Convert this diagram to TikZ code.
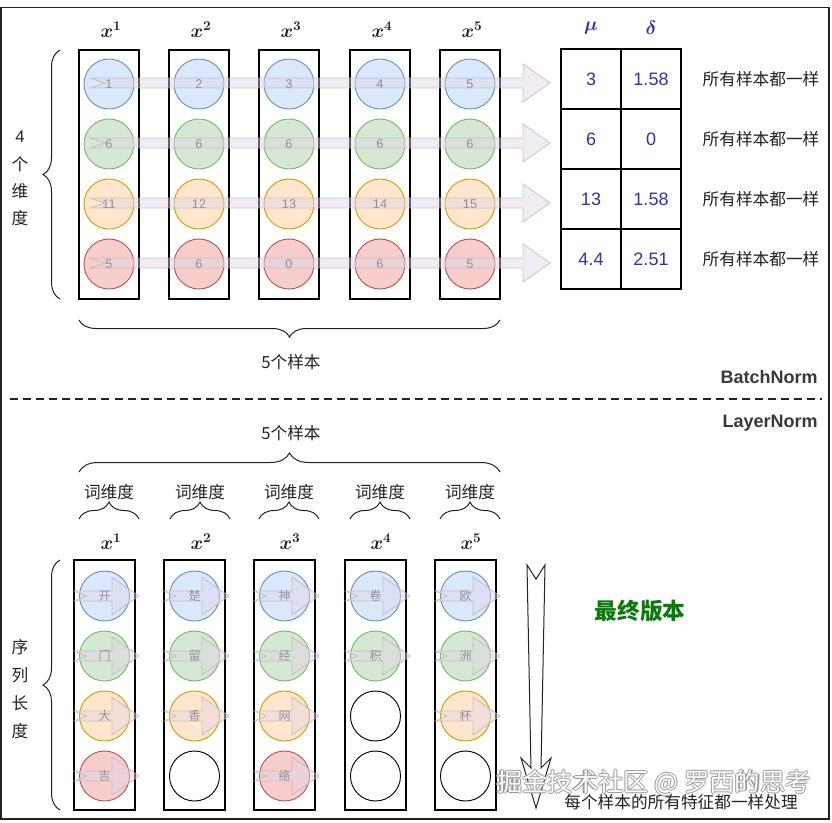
\documentclass[tikz,border=0pt]{standalone}
\usepackage{fontspec}
\setmainfont{Liberation Sans}
\newfontfamily\cjk{Noto Sans CJK SC}
\usetikzlibrary{decorations.pathreplacing}
\definecolor{bfill}{HTML}{DAE8FC}\definecolor{bdraw}{HTML}{6C8EBF}
\definecolor{gfill}{HTML}{D5E8D4}\definecolor{gdraw}{HTML}{82B366}
\definecolor{ofill}{HTML}{FFE6CC}\definecolor{odraw}{HTML}{D79B00}
\definecolor{rfill}{HTML}{F8CECC}\definecolor{rdraw}{HTML}{B85450}
\definecolor{arrfill}{HTML}{E1D5E7}
\definecolor{tblue}{HTML}{3030B0}
\definecolor{dgreen}{HTML}{0B7A0B}
\definecolor{txt}{HTML}{222222}
\newcommand{\bmx}[1]{{\boldmath$#1$}}
\tikzset{
  colbox/.style={draw=black,line width=0.8pt,minimum width=45pt,minimum height=186.75pt},
  colboxb/.style={draw=black,line width=0.8pt,minimum width=45.75pt,minimum height=187.5pt},
  circ/.style={circle,minimum size=37.5pt,line width=0.7pt,text=txt!80,font=\fontsize{9.5}{10}\selectfont},
  bc/.style={circ,fill=bfill,draw=bdraw},
  gc/.style={circ,fill=gfill,draw=gdraw},
  oc/.style={circ,fill=ofill,draw=odraw},
  rc/.style={circ,fill=rfill,draw=rdraw},
  ec/.style={circ,fill=white,draw=black},
  ccirc/.style={circ,font=\cjk\fontsize{9}{10}\selectfont,text=txt!75},
  cbc/.style={ccirc,fill=bfill,draw=bdraw},
  cgc/.style={ccirc,fill=gfill,draw=gdraw},
  coc/.style={ccirc,fill=ofill,draw=odraw},
  crc/.style={ccirc,fill=rfill,draw=rdraw},
  flow/.style={fill=arrfill,fill opacity=0.45,draw=gray!60,draw opacity=0.7,line width=0.6pt},
  cell/.style={draw=black,line width=0.8pt,minimum size=45pt,text=tblue,font=\fontsize{13.5}{15}\selectfont},
  cn/.style={font=\cjk\fontsize{12.5}{14}\selectfont},
  xl/.style={font=\fontsize{14.5}{16}\selectfont},
  brc/.style={decorate,decoration={brace,amplitude=#1},line width=0.75pt,draw=txt},
  tag/.style={font=\bfseries\fontsize{13.5}{15}\selectfont,text=txt!90},
  wmk/.style={font=\cjk\fontsize{19}{20}\selectfont}
}
\begin{document}
\begin{tikzpicture}[x=0.75pt,y=-0.75pt,every node/.style={inner sep=0pt,text=txt}]
\useasboundingbox (0,0) rectangle (832,822);
\draw[line width=1.1pt,draw=txt] (1,7.5) rectangle (829,819);

% ---------------- BatchNorm (top) ----------------
\node[colbox] (T1) at (109,174.5) {};
\node[colbox] (T2) at (199,174.5) {};
\node[colbox] (T3) at (289,174.5) {};
\node[colbox] (T4) at (380,174.5) {};
\node[colbox] (T5) at (470,174.5) {};
\node[xl] (TX1) at (111,30) {\bmx{x^{1}}};
\node[xl] (TX2) at (201,30) {\bmx{x^{2}}};
\node[xl] (TX3) at (291,30) {\bmx{x^{3}}};
\node[xl] (TX4) at (382,30) {\bmx{x^{4}}};
\node[xl] (TX5) at (472,30) {\bmx{x^{5}}};

\node[bc] (t1a) at (109,84) {1};
\node[gc] (t1b) at (109,144) {6};
\node[oc] (t1c) at (109,204) {11};
\node[rc] (t1d) at (109,264) {5};
\node[bc] (t2a) at (199,84) {2};
\node[gc] (t2b) at (199,144) {6};
\node[oc] (t2c) at (199,204) {12};
\node[rc] (t2d) at (199,264) {6};
\node[bc] (t3a) at (289,84) {3};
\node[gc] (t3b) at (289,144) {6};
\node[oc] (t3c) at (289,204) {13};
\node[rc] (t3d) at (289,264) {0};
\node[bc] (t4a) at (380,84) {4};
\node[gc] (t4b) at (380,144) {6};
\node[oc] (t4c) at (380,204) {14};
\node[rc] (t4d) at (380,264) {6};
\node[bc] (t5a) at (470,84) {5};
\node[gc] (t5b) at (470,144) {6};
\node[oc] (t5c) at (470,204) {15};
\node[rc] (t5d) at (470,264) {5};

\foreach \yy in {83,143,203,263}{
  \path[flow] (90,\yy-5) -- (523,\yy-5) -- (523,\yy-19) -- (550,\yy) -- (523,\yy+19)
    -- (523,\yy+5) -- (90,\yy+5) -- (105,\yy) -- cycle;
}

\node[text=tblue,font=\fontsize{14.5}{16}\selectfont] (mu) at (591,28) {\bmx{\mu}};
\node[text=tblue,font=\fontsize{14.5}{16}\selectfont] (de) at (651,28) {\bmx{\delta}};
\node[cell] (m1) at (591,79) {3};
\node[cell] (s1) at (651,79) {1.58};
\node[cell] (m2) at (591,139) {6};
\node[cell] (s2) at (651,139) {0};
\node[cell] (m3) at (591,199) {13};
\node[cell] (s3) at (651,199) {1.58};
\node[cell] (m4) at (591,259) {4.4};
\node[cell] (s4) at (651,259) {2.51};
\node[cn] (same1) at (761,79) {所有样本都一样};
\node[cn] (same2) at (761,139) {所有样本都一样};
\node[cn] (same3) at (761,199) {所有样本都一样};
\node[cn] (same4) at (761,259) {所有样本都一样};

\node[font=\fontsize{12.5}{14}\selectfont] (d4) at (20,137) {4};
\node[cn] (dg) at (20,164) {个};
\node[cn] (dw) at (20,191) {维};
\node[cn] (dd) at (20,218) {度};
\coordinate (lb1) at (60,299);
\coordinate (lb2) at (60,50);
\draw[brc=12.75pt] (lb1) -- (lb2);
\coordinate (bb1) at (500,320);
\coordinate (bb2) at (79,320);
\draw[brc=12.75pt] (bb1) -- (bb2);
\node[cn] (top5) at (291,362) {5个样本};
\node[tag,anchor=east] (bn) at (818,377) {BatchNorm};
\coordinate (dl1) at (10,399);
\coordinate (dl2) at (822,399);
\draw[line width=1.1pt,draw=txt,dash pattern=on 6pt off 3.8pt] (dl1) -- (dl2);
\node[tag,anchor=east] (ln) at (818,423) {LayerNorm};

% ---------------- LayerNorm (bottom) ----------------
\node[cn] (bot5) at (291,433) {5个样本};
\coordinate (ub1) at (79,472);
\coordinate (ub2) at (500,472);
\draw[brc=14.25pt] (ub1) -- (ub2);
\draw[brc=12.75pt] (79,519) -- (139,519);
\draw[brc=12.75pt] (170,519) -- (230,519);
\draw[brc=12.75pt] (259,519) -- (319,519);
\draw[brc=12.75pt] (350,519) -- (410,519);
\draw[brc=12.75pt] (440,519) -- (500,519);
\node[cn] (cw1) at (109,492) {词维度};
\node[cn] (cw2) at (200,492) {词维度};
\node[cn] (cw3) at (289,492) {词维度};
\node[cn] (cw4) at (380,492) {词维度};
\node[cn] (cw5) at (470,492) {词维度};
\node[xl] (BX1) at (111,542) {\bmx{x^{1}}};
\node[xl] (BX2) at (201,542) {\bmx{x^{2}}};
\node[xl] (BX3) at (290,542) {\bmx{x^{3}}};
\node[xl] (BX4) at (381,542) {\bmx{x^{4}}};
\node[xl] (BX5) at (471,542) {\bmx{x^{5}}};

\node[colboxb] (B1) at (104.5,685) {};
\node[colboxb] (B2) at (194.5,685) {};
\node[colboxb] (B3) at (284.5,685) {};
\node[colboxb] (B4) at (375.5,685) {};
\node[colboxb] (B5) at (465.5,685) {};

\node[cbc] (b1a) at (104.5,596) {开};
\node[cgc] (b1b) at (104.5,656) {门};
\node[coc] (b1c) at (104.5,716) {大};
\node[crc] (b1d) at (104.5,776) {吉};
\node[cbc] (b2a) at (194.5,596) {楚};
\node[cgc] (b2b) at (194.5,656) {留};
\node[coc] (b2c) at (194.5,716) {香};
\node[ec]  (b2d) at (194.5,776) {};
\node[cbc] (b3a) at (284.5,596) {神};
\node[cgc] (b3b) at (284.5,656) {经};
\node[coc] (b3c) at (284.5,716) {网};
\node[crc] (b3d) at (284.5,776) {络};
\node[cbc] (b4a) at (375.5,596) {卷};
\node[cgc] (b4b) at (375.5,656) {积};
\node[ec]  (b4c) at (375.5,716) {};
\node[ec]  (b4d) at (375.5,776) {};
\node[cbc] (b5a) at (465.5,596) {欧};
\node[cgc] (b5b) at (465.5,656) {洲};
\node[coc] (b5c) at (465.5,716) {杯};
\node[ec]  (b5d) at (465.5,776) {};

\foreach \LL/\yy in {74/596,74/656,74/716,74/776,
                   164/596,164/656,164/716,
                   254/596,254/656,254/716,254/776,
                   345/596,345/656,
                   435/596,435/656,435/716}{
  \path[flow] (\LL,\yy-5) -- (\LL+38,\yy-5) -- (\LL+38,\yy-19) -- (\LL+65,\yy)
    -- (\LL+38,\yy+19) -- (\LL+38,\yy+5) -- (\LL,\yy+5) -- (\LL+12,\yy) -- cycle;
}

\node[cn] (sx) at (20,647) {序};
\node[cn] (sl) at (20,675) {列};
\node[cn] (sc) at (20,703) {长};
\node[cn] (sd) at (20,731) {度};
\coordinate (lc1) at (60,810);
\coordinate (lc2) at (60,560);
\draw[brc=12.75pt] (lc1) -- (lc2);

\draw[fill=white,line width=0.75pt,draw=txt] (527,565) -- (536,579) -- (545,565) -- (541,768)
  -- (551,758) -- (536,808) -- (521,758) -- (531,768) -- cycle;
\node[font=\cjk\bfseries\fontsize{17}{19}\selectfont,text=dgreen] (final) at (640,611) {最终版本};
\node[cn] (each) at (681,802) {每个样本的所有特征都一样处理};

\node[wmk,text=gray!80] (w1) at (652.8,783) {掘金技术社区 @ 罗西的思考};
\node[wmk,text=gray!80] (w2) at (655.2,783) {掘金技术社区 @ 罗西的思考};
\node[wmk,text=gray!80] (w3) at (654,781.8) {掘金技术社区 @ 罗西的思考};
\node[wmk,text=gray!80] (w4) at (654,784.2) {掘金技术社区 @ 罗西的思考};
\node[wmk,text=white] (wm) at (654,783) {掘金技术社区 @ 罗西的思考};
\end{tikzpicture}
\end{document}
